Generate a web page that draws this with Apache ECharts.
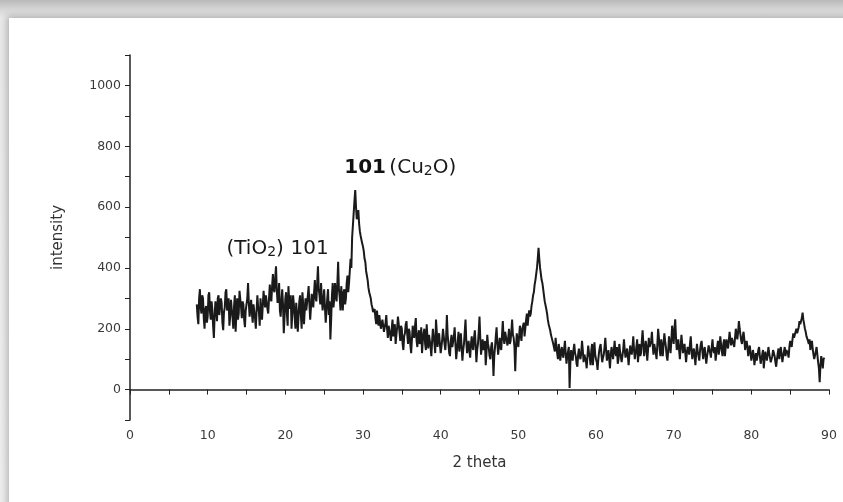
<!DOCTYPE html>
<html>
<head>
<meta charset="utf-8">
<script src="https://cdn.jsdelivr.net/npm/echarts@6/dist/echarts.min.js"></script>
<style>
html,body{margin:0;padding:0;}
#wrap{position:relative;width:843px;height:502px;overflow:hidden;
  background:linear-gradient(to bottom,#b9b9b9 0px,#d8d8d8 10px,#e9e9e9 18px,#eeeeee 100%);}
#card{position:absolute;left:9px;top:18px;width:840px;height:490px;background:#fff;
  box-shadow:0 0 7px 2px rgba(0,0,0,0.25);}
#chart{position:absolute;left:0;top:0;width:843px;height:502px;}
</style>
</head>
<body>
<div id="wrap"><div id="card"></div><div id="chart"></div></div>
<script>
const twoThetaStart = 8.6;
const twoThetaStep = 0.1;
const intensity = [
  280,240,215,300,330,270,250,310,300,235,
  200,265,275,220,240,310,320,255,230,290,
  265,210,170,245,290,260,225,300,310,245,
  240,300,285,220,195,255,270,320,330,260,
  255,300,210,240,295,265,240,200,275,310,
  190,250,300,230,250,325,320,270,235,290,
  280,230,205,260,265,300,350,285,240,270,
  295,250,220,280,275,235,200,260,310,270,
  255,210,300,260,230,280,325,290,270,310,
  310,265,250,300,345,300,290,340,380,330,
  320,370,405,330,285,300,350,260,240,290,
  330,280,185,240,300,320,250,210,340,290,
  265,310,200,250,310,280,240,200,285,250,
  190,240,290,310,245,200,320,280,215,260,
  300,260,255,310,340,280,230,270,315,290,
  270,320,360,300,290,350,405,330,310,280,
  350,300,260,290,330,270,220,260,300,330,
  245,290,165,230,310,350,270,300,350,310,
  290,350,420,330,305,260,340,300,260,320,
  330,280,300,350,375,320,350,390,430,400,
  500,540,580,620,656,600,560,575,590,545,
  520,505,510,480,470,455,430,420,390,375,
  360,335,320,310,300,280,270,255,250,265,
  235,215,260,230,210,245,240,200,195,230,
  225,190,185,220,245,200,170,210,215,180,
  160,200,230,175,190,215,150,180,205,240,
  245,190,160,210,200,150,130,175,185,215,
  225,180,150,200,190,145,120,165,210,180,
  170,210,235,160,140,180,195,150,160,205,
  120,160,185,200,150,130,215,170,135,180,
  175,140,110,160,200,175,150,120,230,190,
  140,175,185,150,120,140,165,200,200,150,
  130,170,245,180,150,120,110,160,180,140,
  140,175,205,150,100,130,160,190,125,150,
  185,140,95,130,150,190,230,160,120,145,
  160,125,105,150,175,140,130,170,195,150,
  90,130,150,190,240,170,115,140,165,130,
  125,160,80,120,180,150,135,110,100,140,
  155,120,45,110,140,175,205,150,115,140,
  170,140,130,180,225,170,150,190,185,160,
  145,170,200,150,160,190,230,180,170,140,
  60,140,185,160,140,175,210,180,160,200,
  195,220,175,200,230,250,210,240,260,240,
  250,275,290,310,320,345,360,380,400,430,
  466,430,400,380,360,350,330,310,290,285,
  265,250,230,215,210,195,180,170,165,150,
  145,125,170,140,120,100,150,130,95,120,
  140,115,105,135,160,120,85,110,125,140,
  5,90,130,110,95,130,150,120,110,85,
  75,115,135,110,100,120,160,130,90,115,
  120,95,70,110,145,120,105,80,130,150,
  80,120,155,115,100,90,65,100,125,140,
  150,115,90,105,115,140,170,130,95,110,
  130,100,70,115,140,120,100,130,160,120,
  110,140,85,100,150,125,120,90,95,130,
  165,130,105,120,135,110,80,115,145,125,
  115,140,175,130,100,120,140,165,90,120,
  150,110,120,160,195,150,110,130,160,140,
  95,130,170,140,135,160,190,145,115,150,
  145,120,100,150,200,170,130,110,165,140,
  110,150,185,160,140,110,95,130,175,150,
  120,160,210,180,150,200,231,170,130,150,
  165,130,100,140,180,150,120,140,150,120,
  90,120,140,130,115,150,175,130,100,125,
  135,110,80,120,150,125,110,95,130,150,
  160,125,100,130,140,110,85,110,125,145,
  150,120,105,140,165,130,120,140,95,120,
  140,160,115,135,175,150,125,110,150,165,
  110,140,165,150,135,160,190,165,145,170,
  175,150,140,170,200,180,165,190,225,200,
  180,160,150,175,190,165,130,150,160,140,
  110,130,145,120,95,110,130,115,80,105,
  120,95,100,130,140,110,85,100,115,130,
  70,100,125,110,95,115,140,120,105,90,
  85,110,130,120,110,90,75,100,120,135,
  100,125,140,115,90,110,125,140,110,130,
  135,120,105,140,160,150,140,165,185,170,
  165,190,200,185,180,205,225,215,210,235,
  253,230,215,200,190,175,170,160,150,165,
  130,150,160,135,115,100,100,125,140,115,
  90,70,24,80,110,95,70,100,105
];
// Peak annotations (data coordinates)
const annotationX = [34.8, 19.0];
const annotationY = [728, 462];
const annotationText = ['{b|101} {n|(Cu}{s|2}{n|O)}', '{n|(TiO}{s|2}{n|)}  {n|101}'];
// Axis settings
const xMin = 0, xMax = 90, xTickStep = 5, xLabelStep = 10;
const yMin = -100, yMax = 1100, yTickStep = 100, yLabelStep = 200;

const lineData = intensity.map((v, i) => [+(twoThetaStart + i * twoThetaStep).toFixed(2), v]);
const annData = annotationX.map((x, i) => ({ value: [x, annotationY[i]], label: { formatter: annotationText[i] } }));

const chart = echarts.init(document.getElementById('chart'), null, { renderer: 'canvas' });
const axisFont = 'DejaVu Sans';
chart.setOption({
  backgroundColor: 'transparent',
  animation: false,
  grid: { left: 130, right: 14, top: 55, bottom: 82 },
  xAxis: {
    type: 'value', min: xMin, max: xMax, interval: xTickStep,
    name: '2 theta', nameLocation: 'middle', nameGap: 36,
    nameTextStyle: { fontFamily: axisFont, fontSize: 15, color: '#333' },
    axisLine: { lineStyle: { color: '#222', width: 1.5 } },
    axisTick: { inside: false, length: 5, lineStyle: { color: '#222' } },
    axisLabel: {
      fontFamily: axisFont, fontSize: 12.5, color: '#3a3a3a', margin: 9,
      formatter: v => (v % xLabelStep === 0 ? String(v) : '')
    },
    splitLine: { show: false }
  },
  yAxis: {
    type: 'value', min: yMin, max: yMax, interval: yTickStep,
    name: 'intensity', nameLocation: 'middle', nameGap: 64, nameRotate: 90,
    nameTextStyle: { fontFamily: axisFont, fontSize: 15, color: '#333' },
    axisLine: { show: true, lineStyle: { color: '#222', width: 1.5 } },
    axisTick: { show: true, inside: false, length: 5, lineStyle: { color: '#222' } },
    axisLabel: {
      fontFamily: axisFont, fontSize: 12.5, color: '#3a3a3a', margin: 9,
      formatter: v => (v >= 0 && v % yLabelStep === 0 ? String(v) : '')
    },
    splitLine: { show: false }
  },
  series: [
    {
      type: 'line', data: lineData, symbol: 'none', smooth: false, sampling: false,
      lineStyle: { color: '#1a1a1a', width: 2 }
    },
    {
      type: 'scatter', data: annData, symbolSize: 0, silent: true,
      itemStyle: { opacity: 1 },
      label: {
        show: true, position: 'inside', color: '#111', opacity: 1,
        rich: {
          b: { fontFamily: axisFont, fontSize: 20, color: '#111', fontWeight: 600 },
          n: { fontFamily: axisFont, fontSize: 20, color: '#1a1a1a' },
          s: { fontFamily: axisFont, fontSize: 14, color: '#1a1a1a', verticalAlign: 'bottom' }
        }
      }
    }
  ]
});
</script>
</body>
</html>
